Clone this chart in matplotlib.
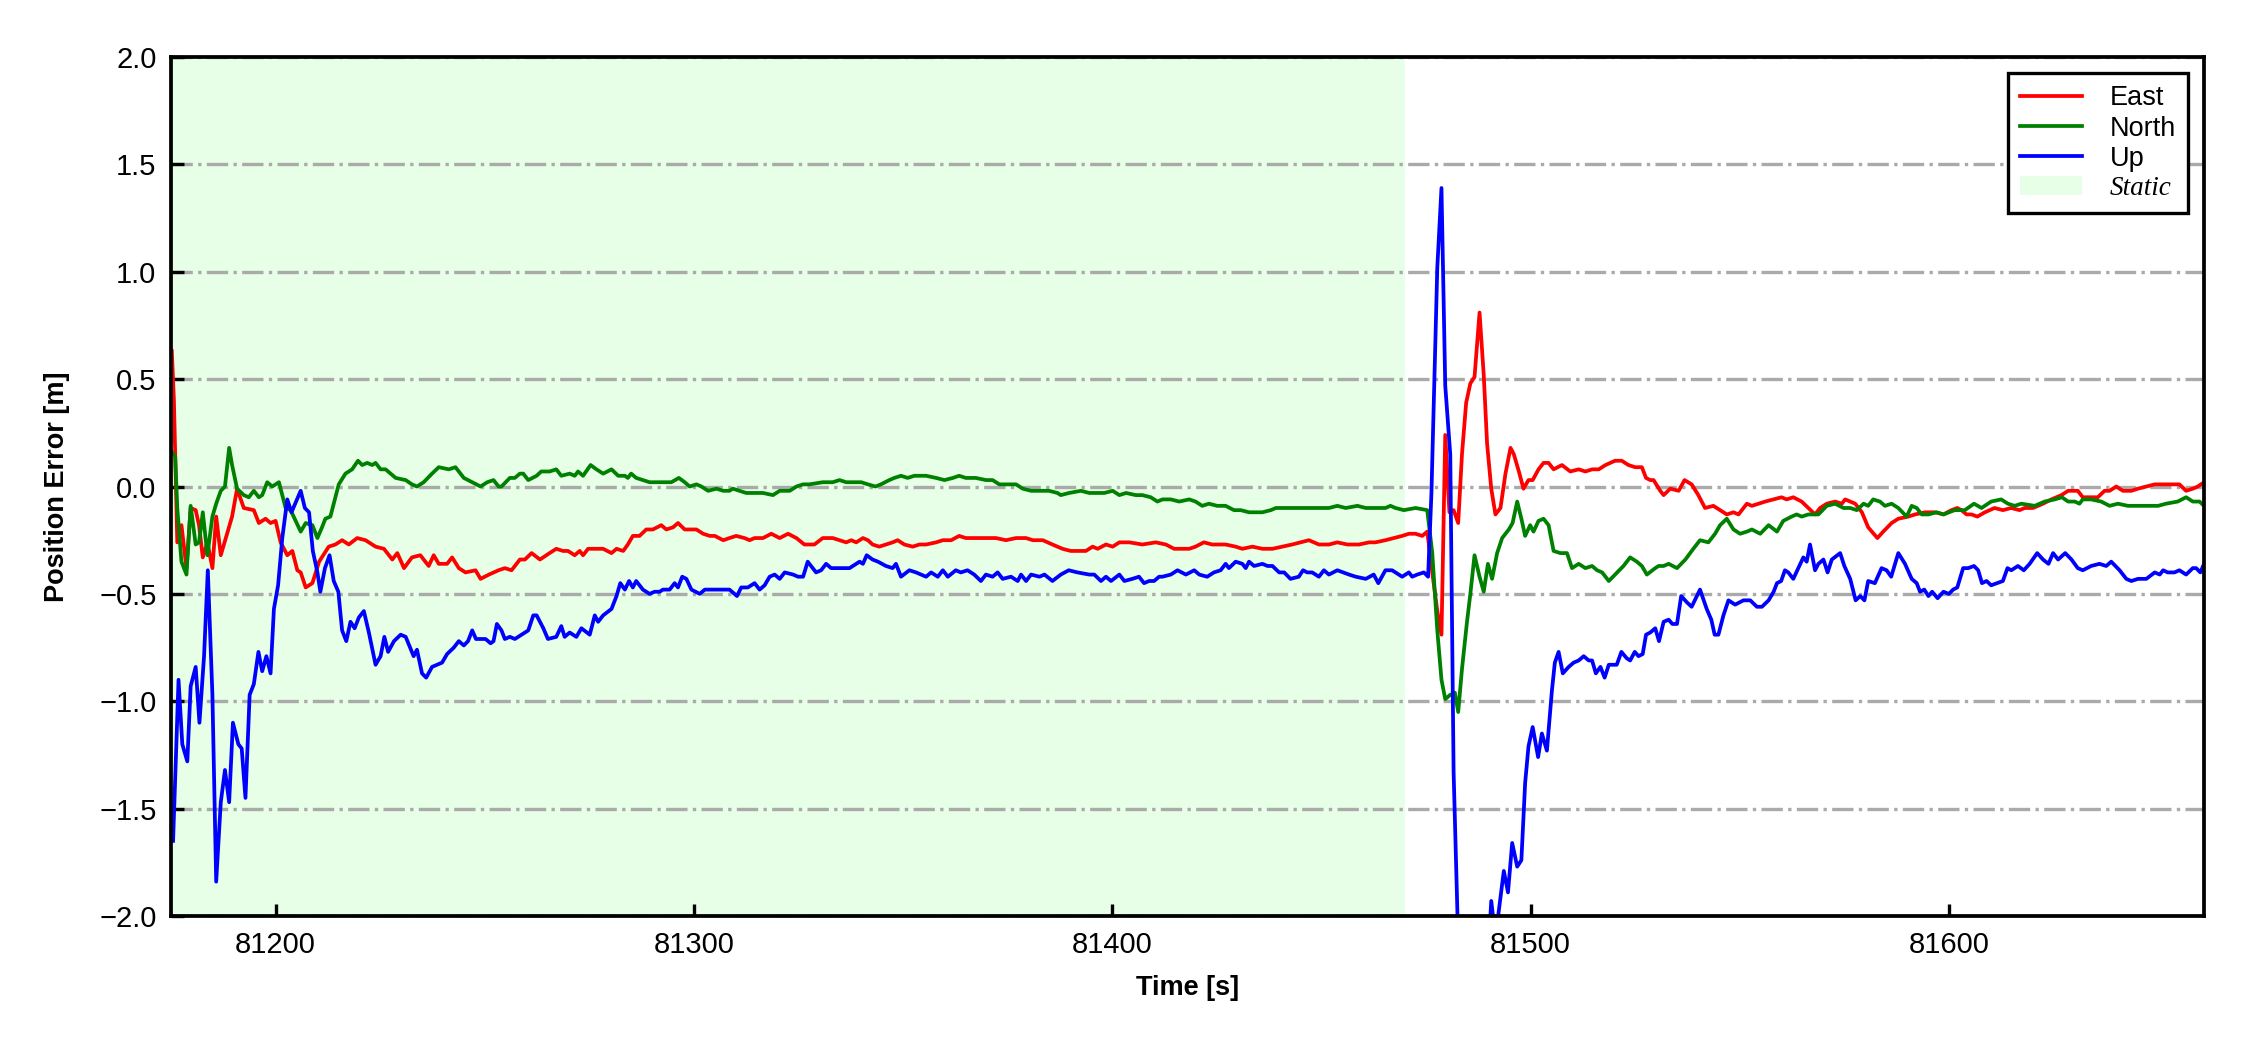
import matplotlib
matplotlib.use('Agg')
import matplotlib.pyplot as plt

plt.rcParams['font.family'] = ['Liberation Sans', 'DejaVu Sans']

STATIC_START = 81175
STATIC_END = 81470
X_MIN = 81175
X_MAX = 81661

# East error
t_east = [81175.2, 81175.7, 81176.5, 81177.5, 81178.7, 81179.7, 81180.9, 81181.7, 81182.6, 81183.7,
          81184.9, 81185.8, 81186.9, 81189.6, 81190.8, 81192.4, 81194.8, 81196.0, 81197.6, 81198.8,
          81200.0, 81201.2, 81202.8, 81204.0, 81205.2, 81206.0, 81207.2, 81208.8, 81210.4, 81212.7,
          81214.3, 81215.9, 81217.5, 81219.5, 81221.5, 81223.9, 81225.9, 81227.9, 81229.1, 81230.7,
          81232.6, 81234.6, 81236.6, 81237.8, 81239.0, 81241.0, 81242.2, 81243.8, 81245.4, 81247.8,
          81249.0, 81251.0, 81253.3, 81254.8, 81256.4, 81258.4, 81259.6, 81261.2, 81263.2, 81265.5,
          81267.1, 81268.7, 81269.9, 81271.5, 81272.7, 81273.5, 81274.7, 81276.7, 81278.3, 81280.3,
          81281.5, 81283.1, 81284.2, 81285.4, 81287.0, 81288.6, 81290.2, 81292.2, 81293.4, 81295.0,
          81296.2, 81297.8, 81299.0, 81300.6, 81302.2, 81303.8, 81305.0, 81307.0, 81308.5, 81310.1,
          81312.1, 81313.3, 81314.5, 81316.5, 81318.5, 81320.5, 81322.5, 81324.5, 81326.4, 81328.8,
          81330.8, 81332.4, 81333.2, 81334.8, 81336.4, 81337.6, 81338.8, 81340.4, 81341.6, 81342.7,
          81344.3, 81345.9, 81347.5, 81348.7, 81350.3, 81352.3, 81353.9, 81355.5, 81357.9, 81359.5,
          81361.5, 81363.4, 81365.0, 81367.4, 81369.8, 81372.2, 81374.6, 81377.0, 81379.4, 81381.0,
          81383.4, 81385.7, 81388.1, 81390.1, 81392.1, 81393.7, 81395.3, 81396.5, 81398.5, 81400.1,
          81401.7, 81404.1, 81407.2, 81410.4, 81412.8, 81414.8, 81416.4, 81418.4, 81419.9, 81421.9,
          81423.9, 81427.1, 81429.5, 81431.1, 81433.5, 81435.9, 81438.3, 81440.7, 81443.0, 81445.0,
          81447.0, 81449.4, 81451.8, 81453.8, 81456.2, 81459.0, 81461.4, 81462.9, 81465.3, 81467.3,
          81469.3, 81470.9, 81472.5, 81474.1, 81475.3, 81476.5, 81477.7, 81478.7, 81479.6, 81480.6,
          81481.6, 81482.7, 81483.6, 81484.6, 81485.6, 81486.6, 81487.8, 81488.8, 81489.6, 81490.6,
          81491.6, 81492.8, 81494.0, 81495.2, 81496.0, 81497.2, 81498.3, 81499.5, 81500.5, 81501.9,
          81503.1, 81504.3, 81505.5, 81507.5, 81509.5, 81511.5, 81513.1, 81514.7, 81516.3, 81517.9,
          81520.2, 81521.8, 81523.4, 81525.0, 81526.6, 81527.6, 81528.6, 81529.4, 81531.0, 81531.8,
          81533.4, 81535.4, 81536.8, 81538.5, 81540.1, 81541.7, 81543.7, 81545.3, 81546.9, 81548.5,
          81549.7, 81551.7, 81552.9, 81554.5, 81556.1, 81558.1, 81560.0, 81561.2, 81562.8, 81564.8,
          81566.4, 81568.0, 81569.2, 81570.8, 81572.8, 81574.4, 81575.2, 81576.4, 81577.6, 81579.2,
          81580.7, 81582.9, 81584.3, 81586.3, 81587.9, 81590.3, 81591.9, 81594.3, 81596.7, 81598.7,
          81600.6, 81602.0, 81603.0, 81604.2, 81605.4, 81606.8, 81608.6, 81610.9, 81612.9, 81614.9,
          81616.9, 81618.1, 81620.1, 81622.5, 81624.5, 81626.9, 81628.5, 81630.8, 81632.0, 81634.0,
          81635.6, 81637.2, 81638.4, 81640.0, 81641.6, 81643.6, 81645.2, 81647.2, 81649.2, 81650.8,
          81652.3, 81655.1, 81656.7, 81658.3, 81659.5, 81661.0]
east = [0.63, 0.40, -0.26, -0.18, -0.38, -0.10, -0.11, -0.18, -0.33, -0.26,
        -0.38, -0.14, -0.32, -0.14, -0.01, -0.10, -0.11, -0.17, -0.15, -0.17,
        -0.16, -0.26, -0.32, -0.30, -0.39, -0.40, -0.47, -0.45, -0.35, -0.28,
        -0.27, -0.25, -0.27, -0.24, -0.25, -0.28, -0.29, -0.34, -0.31, -0.38,
        -0.33, -0.32, -0.37, -0.32, -0.36, -0.36, -0.33, -0.38, -0.40, -0.39,
        -0.43, -0.41, -0.39, -0.38, -0.39, -0.34, -0.34, -0.31, -0.34, -0.31,
        -0.29, -0.30, -0.30, -0.32, -0.30, -0.32, -0.29, -0.29, -0.29, -0.31,
        -0.29, -0.30, -0.27, -0.23, -0.23, -0.20, -0.20, -0.18, -0.20, -0.19,
        -0.17, -0.20, -0.20, -0.20, -0.22, -0.23, -0.23, -0.25, -0.24, -0.23,
        -0.24, -0.25, -0.24, -0.24, -0.22, -0.24, -0.22, -0.24, -0.27, -0.27,
        -0.24, -0.24, -0.24, -0.25, -0.26, -0.25, -0.26, -0.24, -0.25, -0.27,
        -0.28, -0.27, -0.26, -0.25, -0.27, -0.28, -0.27, -0.27, -0.26, -0.25,
        -0.25, -0.23, -0.24, -0.24, -0.24, -0.24, -0.25, -0.24, -0.24, -0.25,
        -0.25, -0.27, -0.29, -0.30, -0.30, -0.30, -0.28, -0.29, -0.27, -0.28,
        -0.26, -0.26, -0.27, -0.26, -0.27, -0.29, -0.29, -0.29, -0.28, -0.26,
        -0.27, -0.27, -0.28, -0.29, -0.28, -0.29, -0.29, -0.28, -0.27, -0.26,
        -0.25, -0.27, -0.27, -0.26, -0.27, -0.27, -0.26, -0.26, -0.25, -0.24,
        -0.23, -0.22, -0.22, -0.23, -0.21, -0.40, -0.58, -0.69, 0.24, -0.12,
        -0.11, -0.17, 0.15, 0.39, 0.48, 0.51, 0.81, 0.52, 0.20, -0.01,
        -0.13, -0.10, 0.06, 0.18, 0.15, 0.07, -0.01, 0.03, 0.03, 0.08,
        0.11, 0.11, 0.08, 0.10, 0.07, 0.08, 0.07, 0.08, 0.08, 0.10,
        0.12, 0.12, 0.10, 0.09, 0.09, 0.04, 0.03, 0.03, -0.02, -0.04,
        -0.01, -0.02, 0.03, 0.01, -0.04, -0.10, -0.09, -0.11, -0.13, -0.12,
        -0.13, -0.08, -0.09, -0.08, -0.07, -0.06, -0.05, -0.06, -0.05, -0.07,
        -0.10, -0.13, -0.10, -0.08, -0.07, -0.08, -0.06, -0.07, -0.08, -0.12,
        -0.19, -0.24, -0.21, -0.17, -0.15, -0.14, -0.13, -0.12, -0.12, -0.13,
        -0.11, -0.10, -0.11, -0.13, -0.13, -0.14, -0.12, -0.10, -0.11, -0.10,
        -0.11, -0.10, -0.10, -0.08, -0.06, -0.04, -0.02, -0.02, -0.05, -0.05,
        -0.05, -0.02, -0.02, 0.00, -0.02, -0.02, -0.01, 0.00, 0.01, 0.01,
        0.01, 0.01, -0.02, -0.01, 0.00, 0.02]

# North error
t_north = [81175.2, 81176.0, 81176.5, 81177.5, 81178.7, 81179.7, 81180.9, 81181.7, 81182.6, 81183.7,
           81184.9, 81185.8, 81186.9, 81187.9, 81188.9, 81189.6, 81190.8, 81192.4, 81193.6, 81194.8,
           81196.0, 81196.8, 81198.0, 81199.2, 81200.8, 81202.4, 81203.6, 81204.8, 81206.0, 81207.2,
           81208.8, 81210.0, 81211.1, 81211.9, 81213.1, 81213.9, 81215.1, 81216.7, 81218.3, 81219.7,
           81220.7, 81221.9, 81223.1, 81223.9, 81225.1, 81226.3, 81228.7, 81231.1, 81232.6, 81233.8,
           81235.4, 81237.4, 81239.0, 81241.4, 81243.0, 81245.0, 81247.0, 81249.0, 81250.6, 81252.1,
           81253.3, 81254.0, 81256.0, 81257.2, 81258.4, 81259.2, 81260.4, 81262.4, 81263.5, 81265.5,
           81267.1, 81268.3, 81270.3, 81271.5, 81272.3, 81273.5, 81275.3, 81276.7, 81278.3, 81280.3,
           81281.9, 81283.5, 81284.2, 81285.0, 81286.2, 81287.8, 81289.4, 81291.8, 81294.6, 81296.4,
           81297.8, 81299.0, 81300.6, 81301.8, 81303.4, 81305.4, 81307.0, 81308.5, 81309.3, 81310.9,
           81312.5, 81314.1, 81316.5, 81318.9, 81320.5, 81322.9, 81324.5, 81326.1, 81327.6, 81330.8,
           81332.4, 81333.2, 81334.8, 81336.4, 81338.0, 81340.0, 81341.6, 81343.4, 81344.7, 81346.7,
           81347.9, 81349.5, 81351.1, 81352.7, 81355.5, 81357.9, 81359.9, 81361.9, 81363.4, 81365.0,
           81367.4, 81369.8, 81371.4, 81373.0, 81375.0, 81377.0, 81378.6, 81380.6, 81382.6, 81384.9,
           81386.9, 81387.7, 81389.7, 81392.5, 81394.5, 81396.5, 81398.1, 81400.1, 81401.7, 81403.3,
           81405.6, 81407.2, 81409.2, 81410.8, 81412.0, 81414.0, 81416.0, 81418.4, 81419.9, 81421.5,
           81423.1, 81425.1, 81427.1, 81429.1, 81430.7, 81432.7, 81434.3, 81435.9, 81437.9, 81439.1,
           81442.2, 81444.6, 81447.0, 81449.4, 81451.8, 81453.8, 81455.8, 81458.6, 81460.6, 81462.9,
           81465.3, 81466.5, 81467.7, 81469.7, 81472.5, 81475.3, 81476.5, 81477.7, 81478.7, 81479.6,
           81480.8, 81481.9, 81482.7, 81483.6, 81484.8, 81485.6, 81486.6, 81487.8, 81488.8, 81489.8,
           81490.8, 81492.0, 81493.2, 81494.8, 81495.7, 81496.8, 81497.8, 81498.7, 81499.9, 81500.7,
           81501.9, 81503.1, 81504.3, 81505.5, 81507.1, 81508.7, 81509.9, 81511.5, 81513.1, 81514.7,
           81515.9, 81517.1, 81518.7, 81520.2, 81522.2, 81523.8, 81525.4, 81526.6, 81527.8, 81529.8,
           81530.6, 81531.8, 81533.0, 81535.0, 81537.0, 81538.9, 81540.5, 81542.5, 81544.1, 81545.3,
           81546.9, 81548.5, 81550.1, 81551.7, 81552.9, 81554.9, 81556.9, 81558.9, 81560.4, 81562.4,
           81563.6, 81564.8, 81566.4, 81568.0, 81568.8, 81570.8, 81572.8, 81574.8, 81576.4, 81578.0,
           81579.6, 81580.7, 81581.9, 81583.5, 81584.7, 81586.3, 81587.9, 81589.9, 81591.1, 81592.3,
           81593.5, 81595.1, 81597.1, 81598.7, 81601.4, 81603.8, 81606.0, 81607.8, 81610.1, 81612.5,
           81614.1, 81615.7, 81617.3, 81620.5, 81622.9, 81625.3, 81627.0, 81628.5, 81630.1, 81631.2,
           81632.0, 81634.0, 81636.4, 81638.4, 81640.4, 81642.8, 81645.2, 81648.0, 81650.0, 81651.9,
           81654.7, 81656.7, 81658.3, 81659.9, 81661.0]
north = [0.16, 0.14, -0.10, -0.35, -0.41, -0.09, -0.27, -0.26, -0.12, -0.32,
         -0.14, -0.08, -0.02, 0.00, 0.18, 0.10, -0.01, -0.04, -0.05, -0.02,
         -0.05, -0.04, 0.02, 0.00, 0.02, -0.10, -0.11, -0.16, -0.21, -0.17,
         -0.18, -0.24, -0.19, -0.15, -0.14, -0.08, 0.01, 0.06, 0.08, 0.12,
         0.10, 0.11, 0.10, 0.11, 0.08, 0.08, 0.04, 0.03, 0.01, 0.00,
         0.02, 0.06, 0.09, 0.08, 0.09, 0.04, 0.02, 0.00, 0.02, 0.03,
         0.00, 0.00, 0.04, 0.04, 0.06, 0.06, 0.03, 0.05, 0.07, 0.07,
         0.08, 0.05, 0.06, 0.05, 0.07, 0.05, 0.10, 0.08, 0.06, 0.08,
         0.05, 0.05, 0.04, 0.06, 0.04, 0.03, 0.02, 0.02, 0.02, 0.04,
         0.02, 0.00, 0.01, 0.00, -0.02, -0.01, -0.02, -0.02, -0.01, -0.02,
         -0.03, -0.03, -0.03, -0.04, -0.02, -0.02, 0.00, 0.01, 0.01, 0.02,
         0.02, 0.02, 0.03, 0.02, 0.02, 0.02, 0.01, 0.00, 0.01, 0.03,
         0.04, 0.05, 0.04, 0.05, 0.05, 0.04, 0.03, 0.04, 0.05, 0.04,
         0.04, 0.03, 0.03, 0.01, 0.01, 0.01, -0.01, -0.02, -0.02, -0.02,
         -0.03, -0.04, -0.03, -0.02, -0.03, -0.03, -0.03, -0.02, -0.04, -0.03,
         -0.04, -0.04, -0.05, -0.07, -0.06, -0.06, -0.07, -0.06, -0.07, -0.09,
         -0.08, -0.09, -0.09, -0.11, -0.11, -0.12, -0.12, -0.12, -0.11, -0.10,
         -0.10, -0.10, -0.10, -0.10, -0.10, -0.09, -0.10, -0.09, -0.10, -0.10,
         -0.10, -0.09, -0.10, -0.11, -0.10, -0.11, -0.31, -0.67, -0.90, -0.99,
         -0.97, -0.96, -1.05, -0.85, -0.63, -0.50, -0.32, -0.42, -0.49, -0.36,
         -0.43, -0.31, -0.24, -0.20, -0.17, -0.07, -0.15, -0.23, -0.18, -0.21,
         -0.16, -0.15, -0.18, -0.30, -0.31, -0.31, -0.38, -0.36, -0.38, -0.37,
         -0.39, -0.40, -0.44, -0.41, -0.37, -0.33, -0.35, -0.37, -0.41, -0.38,
         -0.37, -0.37, -0.36, -0.38, -0.34, -0.29, -0.25, -0.26, -0.22, -0.18,
         -0.15, -0.20, -0.22, -0.21, -0.20, -0.22, -0.18, -0.21, -0.16, -0.14,
         -0.13, -0.14, -0.13, -0.13, -0.13, -0.09, -0.08, -0.10, -0.10, -0.11,
         -0.08, -0.09, -0.06, -0.07, -0.09, -0.08, -0.10, -0.14, -0.09, -0.10,
         -0.13, -0.13, -0.12, -0.13, -0.11, -0.11, -0.08, -0.10, -0.07, -0.06,
         -0.08, -0.09, -0.08, -0.09, -0.07, -0.06, -0.05, -0.07, -0.07, -0.08,
         -0.06, -0.06, -0.07, -0.09, -0.08, -0.09, -0.09, -0.09, -0.09, -0.08,
         -0.07, -0.05, -0.07, -0.07, -0.09]

# Up error (goes below -2 right after the static period ends)
t_up = [81175.5, 81176.8, 81177.7, 81178.9, 81179.7, 81180.9, 81181.8, 81182.9, 81183.8, 81184.9,
        81185.8, 81186.9, 81187.9, 81188.9, 81189.8, 81191.1, 81191.9, 81192.8, 81193.8, 81194.8,
        81195.9, 81196.8, 81197.8, 81198.8, 81199.6, 81200.6, 81201.6, 81202.8, 81203.8, 81204.9,
        81206.0, 81207.0, 81208.0, 81208.9, 81210.0, 81210.7, 81211.8, 81212.9, 81213.9, 81215.0,
        81215.9, 81216.9, 81217.9, 81218.9, 81219.9, 81221.1, 81222.3, 81223.9, 81225.1, 81226.0,
        81226.9, 81228.3, 81229.9, 81231.1, 81233.0, 81233.8, 81235.0, 81236.0, 81237.4, 81238.6,
        81239.8, 81241.0, 81242.6, 81243.8, 81245.0, 81246.0, 81247.0, 81247.9, 81250.2, 81251.4,
        81252.1, 81252.9, 81254.0, 81254.8, 81256.0, 81257.2, 81258.8, 81260.4, 81261.6, 81262.4,
        81264.0, 81265.1, 81267.1, 81268.3, 81269.1, 81270.3, 81271.9, 81273.1, 81275.1, 81276.3,
        81277.1, 81278.3, 81280.3, 81281.5, 81282.4, 81283.5, 81284.5, 81285.4, 81286.2, 81287.8,
        81289.4, 81290.6, 81291.8, 81292.6, 81294.2, 81295.4, 81296.2, 81297.2, 81298.2, 81299.4,
        81301.4, 81302.6, 81304.6, 81307.0, 81308.5, 81310.3, 81311.3, 81312.9, 81314.5, 81315.7,
        81316.9, 81318.1, 81319.3, 81320.5, 81321.7, 81323.7, 81324.9, 81326.1, 81327.2, 81329.2,
        81330.4, 81331.6, 81332.8, 81334.8, 81337.2, 81338.8, 81339.6, 81340.4, 81341.3, 81342.7,
        81344.0, 81345.9, 81347.5, 81348.3, 81349.5, 81351.5, 81353.1, 81355.5, 81356.7, 81358.3,
        81359.5, 81360.7, 81362.6, 81363.8, 81365.4, 81367.0, 81368.6, 81369.8, 81371.4, 81372.6,
        81373.8, 81375.8, 81377.4, 81378.2, 81379.4, 81380.6, 81382.6, 81383.8, 81385.7, 81387.7,
        81389.6, 81391.7, 81394.5, 81395.7, 81397.3, 81398.5, 81399.7, 81401.7, 81402.9, 81404.8,
        81406.4, 81407.6, 81408.8, 81410.0, 81411.2, 81412.0, 81414.0, 81415.6, 81417.6, 81419.6,
        81420.8, 81422.7, 81424.3, 81425.9, 81427.1, 81427.9, 81429.5, 81431.1, 81431.9, 81432.7,
        81433.9, 81435.9, 81437.1, 81438.3, 81439.9, 81441.1, 81442.6, 81444.6, 81445.6, 81446.6,
        81447.8, 81449.4, 81450.6, 81451.8, 81453.8, 81456.6, 81458.2, 81460.6, 81462.5, 81463.6,
        81465.3, 81466.9, 81469.3, 81470.9, 81471.7, 81472.9, 81474.5, 81475.5, 81476.3, 81477.7,
        81478.7, 81479.6, 81480.8, 81481.6, 81482.6, 81484.0, 81487.0, 81489.5, 81490.6, 81491.6,
        81493.6, 81494.6, 81495.6, 81496.8, 81497.8, 81498.7, 81499.5, 81500.5, 81501.8, 81502.7,
        81503.9, 81505.1, 81505.8, 81506.7, 81507.7, 81509.1, 81510.3, 81511.5, 81512.7, 81513.9,
        81514.7, 81515.6, 81516.7, 81517.7, 81518.7, 81520.6, 81521.7, 81523.0, 81523.8, 81524.9,
        81525.8, 81526.8, 81527.6, 81528.6, 81529.8, 81530.7, 81531.8, 81533.0, 81533.9, 81535.0,
        81536.0, 81537.4, 81538.5, 81540.5, 81542.1, 81543.2, 81544.0, 81544.9, 81546.1, 81547.3,
        81548.9, 81550.9, 81552.5, 81554.1, 81555.3, 81556.9, 81558.1, 81558.9, 81559.9, 81560.8,
        81561.6, 81562.8, 81564.0, 81565.2, 81566.0, 81566.8, 81568.0, 81568.8, 81570.0, 81571.0,
        81572.0, 81574.0, 81575.0, 81576.4, 81577.7, 81578.8, 81579.8, 81580.7, 81582.3, 81583.9,
        81585.1, 81586.2, 81587.9, 81589.5, 81591.1, 81592.3, 81593.1, 81594.1, 81595.1, 81596.0,
        81597.3, 81598.7, 81600.0, 81601.0, 81602.0, 81603.4, 81604.6, 81606.0, 81607.0, 81607.9,
        81609.0, 81610.1, 81612.9, 81614.0, 81614.9, 81616.5, 81617.9, 81619.3, 81621.1, 81622.5,
        81623.8, 81624.9, 81626.1, 81627.8, 81629.3, 81630.8, 81632.0, 81634.0, 81636.0, 81637.6,
        81638.8, 81640.8, 81642.4, 81643.6, 81645.2, 81647.2, 81649.2, 81650.4, 81651.2, 81652.3,
        81653.9, 81655.1, 81656.7, 81658.3, 81659.1, 81660.1, 81661.0]
up = [-1.65, -0.90, -1.20, -1.28, -0.93, -0.84, -1.10, -0.79, -0.39, -0.97,
      -1.84, -1.47, -1.32, -1.47, -1.10, -1.20, -1.22, -1.45, -0.97, -0.92,
      -0.77, -0.86, -0.79, -0.87, -0.57, -0.46, -0.24, -0.06, -0.12, -0.07,
      -0.02, -0.10, -0.12, -0.30, -0.40, -0.49, -0.38, -0.32, -0.44, -0.49,
      -0.67, -0.72, -0.63, -0.66, -0.61, -0.58, -0.68, -0.83, -0.79, -0.70,
      -0.77, -0.72, -0.69, -0.70, -0.79, -0.76, -0.87, -0.89, -0.84, -0.83,
      -0.82, -0.78, -0.75, -0.72, -0.74, -0.72, -0.67, -0.71, -0.71, -0.73,
      -0.72, -0.64, -0.67, -0.71, -0.70, -0.71, -0.69, -0.67, -0.60, -0.60,
      -0.66, -0.71, -0.70, -0.65, -0.70, -0.68, -0.70, -0.66, -0.69, -0.60,
      -0.63, -0.60, -0.57, -0.51, -0.45, -0.48, -0.44, -0.47, -0.44, -0.48,
      -0.50, -0.49, -0.49, -0.48, -0.48, -0.45, -0.47, -0.42, -0.43, -0.48,
      -0.50, -0.48, -0.48, -0.48, -0.48, -0.51, -0.47, -0.47, -0.45, -0.48,
      -0.46, -0.42, -0.41, -0.43, -0.40, -0.41, -0.42, -0.42, -0.35, -0.40,
      -0.39, -0.36, -0.38, -0.38, -0.38, -0.36, -0.35, -0.36, -0.32, -0.34,
      -0.35, -0.37, -0.38, -0.36, -0.42, -0.39, -0.40, -0.42, -0.40, -0.42,
      -0.39, -0.42, -0.39, -0.40, -0.39, -0.41, -0.44, -0.41, -0.42, -0.40,
      -0.43, -0.42, -0.44, -0.41, -0.44, -0.41, -0.42, -0.41, -0.44, -0.41,
      -0.39, -0.40, -0.41, -0.41, -0.44, -0.42, -0.44, -0.41, -0.44, -0.43,
      -0.42, -0.45, -0.44, -0.44, -0.42, -0.42, -0.41, -0.39, -0.41, -0.39,
      -0.41, -0.42, -0.40, -0.39, -0.36, -0.38, -0.35, -0.36, -0.38, -0.35,
      -0.37, -0.36, -0.37, -0.37, -0.40, -0.40, -0.43, -0.42, -0.39, -0.40,
      -0.40, -0.42, -0.39, -0.41, -0.39, -0.41, -0.42, -0.43, -0.41, -0.45,
      -0.39, -0.39, -0.42, -0.40, -0.42, -0.41, -0.40, -0.42, -0.03, 1.02,
      1.39, 0.47, 0.15, -1.33, -2.05, -2.60, -2.70, -2.30, -1.93, -2.10,
      -1.79, -1.89, -1.66, -1.77, -1.74, -1.38, -1.21, -1.12, -1.26, -1.15,
      -1.23, -0.95, -0.82, -0.77, -0.87, -0.84, -0.82, -0.81, -0.79, -0.81,
      -0.81, -0.87, -0.84, -0.89, -0.83, -0.83, -0.77, -0.80, -0.81, -0.77,
      -0.79, -0.78, -0.69, -0.68, -0.66, -0.72, -0.63, -0.62, -0.64, -0.64,
      -0.51, -0.54, -0.56, -0.48, -0.57, -0.62, -0.69, -0.69, -0.60, -0.53,
      -0.55, -0.53, -0.53, -0.56, -0.56, -0.53, -0.49, -0.45, -0.44, -0.39,
      -0.40, -0.43, -0.38, -0.33, -0.35, -0.27, -0.39, -0.36, -0.34, -0.40,
      -0.34, -0.31, -0.37, -0.43, -0.53, -0.51, -0.53, -0.44, -0.45, -0.38,
      -0.39, -0.42, -0.31, -0.36, -0.43, -0.45, -0.49, -0.48, -0.51, -0.49,
      -0.52, -0.49, -0.50, -0.48, -0.47, -0.38, -0.38, -0.37, -0.39, -0.45,
      -0.44, -0.46, -0.44, -0.38, -0.39, -0.37, -0.39, -0.36, -0.31, -0.34,
      -0.36, -0.31, -0.34, -0.31, -0.34, -0.38, -0.39, -0.37, -0.36, -0.37,
      -0.35, -0.39, -0.43, -0.44, -0.43, -0.43, -0.40, -0.41, -0.39, -0.40,
      -0.40, -0.39, -0.41, -0.38, -0.38, -0.40, -0.36]

fig = plt.figure(figsize=(7.5, 3.5), dpi=300)
ax = fig.add_axes([0.076, 0.1276, 0.9036, 0.8181])

ax.axvspan(STATIC_START, STATIC_END, color='#e6ffe6', lw=0, label='Static', zorder=0)
ax.plot(t_east, east, color='r', lw=0.9, label='East')
ax.plot(t_north, north, color='g', lw=0.9, label='North')
ax.plot(t_up, up, color='b', lw=0.9, label='Up')

ax.set_xlim(X_MIN, X_MAX)
ax.set_ylim(-2, 2)
ax.set_yticks([-2.0, -1.5, -1.0, -0.5, 0.0, 0.5, 1.0, 1.5, 2.0])
ax.set_xticks([81200, 81300, 81400, 81500, 81600])
ax.yaxis.grid(True, linestyle='-.', color='#aaaaaa', lw=0.8)
ax.set_axisbelow(True)
ax.tick_params(direction='in', labelsize=7, length=3, width=0.8)
for s in ax.spines.values():
    s.set_linewidth(0.9)

ax.set_xlabel('Time [s]', fontsize=6.5, fontweight='bold')
ax.set_ylabel('Position Error [m]', fontsize=6.5, fontweight='bold', labelpad=7)

h, l = ax.get_legend_handles_labels()
order = [1, 2, 3, 0]
leg = ax.legend([h[i] for i in order], [l[i] for i in order], loc='upper right',
                fontsize=6.5, fancybox=False, edgecolor='k', framealpha=1,
                borderpad=0.45, labelspacing=0.15, handlelength=2.3, handletextpad=1.0,
                borderaxespad=0.6)
leg.get_frame().set_linewidth(0.8)
leg.get_texts()[3].set_fontfamily(['Liberation Serif', 'DejaVu Serif'])
leg.get_texts()[3].set_fontstyle('italic')

fig.savefig('out.png', dpi=300)
